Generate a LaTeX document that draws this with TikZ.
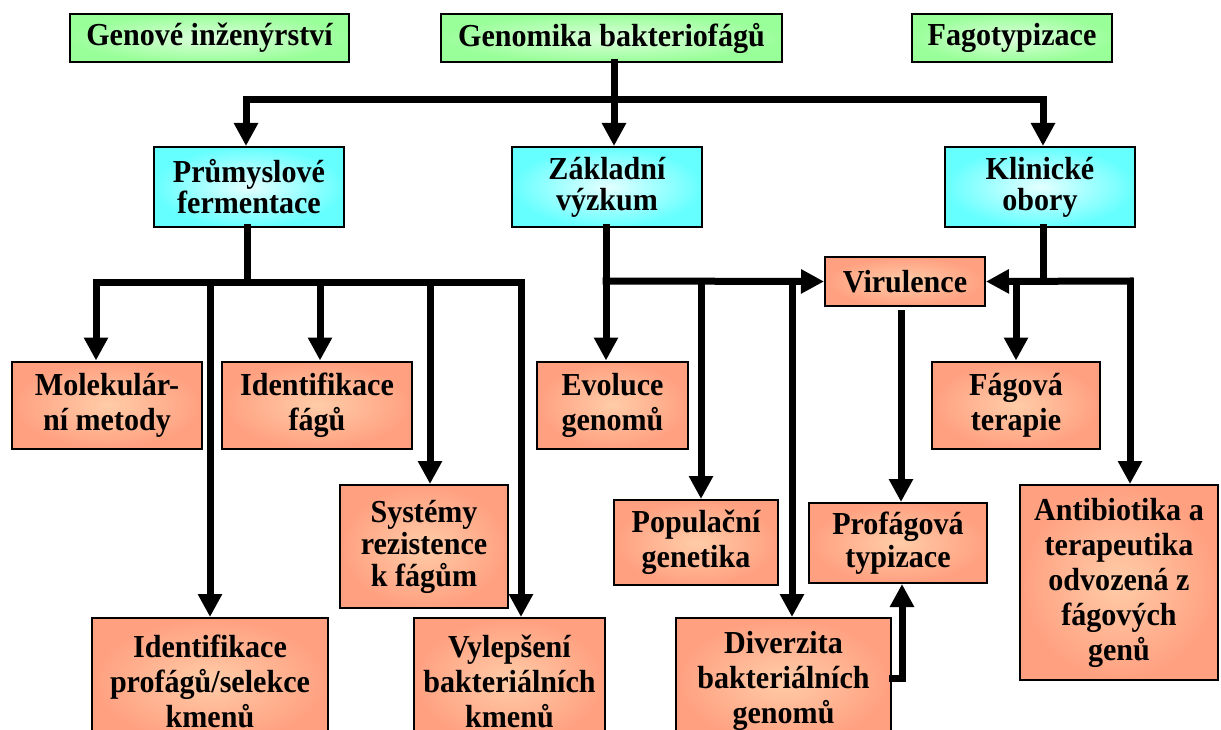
\documentclass[tikz,border=0pt]{standalone}
\usepackage{fontspec}
\setmainfont{Liberation Serif}[FakeStretch=0.94]
\usetikzlibrary{arrows.meta}
\definecolor{grnout}{HTML}{99FF99}
\definecolor{grnin}{HTML}{DDFFDD}
\definecolor{cyout}{HTML}{66FFFF}
\definecolor{cyin}{HTML}{E4FFFF}
\definecolor{saout}{HTML}{FFA080}
\definecolor{sain}{HTML}{FFCCA8}
\begin{document}
\begin{tikzpicture}[x=1pt,y=-1pt,
  box/.style={draw=black, line width=2pt, align=center, inner sep=0pt,
    font=\fontsize{32}{35}\selectfont\bfseries},
  gbox/.style={box, inner color=grnin, outer color=grnout, minimum height=48pt},
  cbox/.style={box, inner color=cyin, outer color=cyout, minimum height=80pt, minimum width=190pt,
    font=\fontsize{32}{31}\selectfont\bfseries},
  sbox/.style={box, inner color=sain, outer color=saout},
  conn/.style={line width=7pt, line cap=rect, line join=miter},
  arr/.style={conn, -{Triangle[width=23pt,length=23pt]}}]
\useasboundingbox (0,0) rectangle (1221,730);
\clip (0,0) rectangle (1221,730);

% top row
\node[gbox, minimum width=279pt] (g1) at (209.5,38) {Genové inženýrství};
\node[gbox, minimum width=341pt] (g2) at (611.5,38) {Genomika bakteriofágů};
\node[gbox, minimum width=200pt] (g3) at (1012,38) {Fagotypizace};

% middle row
\node[cbox, minimum width=190pt] (c1) at (249,187) {Průmyslové\\fermentace};
\node[cbox] (c2) at (607,187) {Základní\\výzkum};
\node[cbox] (c3) at (1040,187) {Klinické\\obory};

\node[sbox, minimum width=160pt, minimum height=49pt] (v) at (905,281.5) {Virulence};

% third row
\node[sbox, minimum width=190pt, minimum height=87pt] (m1) at (107,405) {Molekulár-\\ní metody};
\node[sbox, minimum width=190pt, minimum height=87pt] (m2) at (317,405) {Identifikace\\fágů};
\node[sbox, minimum width=151pt, minimum height=87pt] (e1) at (612.5,405) {Evoluce\\genomů};
\node[sbox, minimum width=168pt, minimum height=87pt] (f1) at (1016,405) {Fágová\\terapie};

% fourth row
\node[sbox, minimum width=168pt, minimum height=123pt, font=\fontsize{32}{32}\selectfont\bfseries] (m3) at (424,546.5) {Systémy\\rezistence\\k fágům};
\node[sbox, minimum width=164pt, minimum height=85pt] (p1) at (696,542.5) {Populační\\genetika};
\node[sbox, minimum width=178pt, minimum height=80pt, font=\fontsize{32}{33}\selectfont\bfseries] (pt) at (898,543) {Profágová\\typizace};
\node[sbox, minimum width=198pt, minimum height=195pt] (a1) at (1119,582.5) {Antibiotika a\\terapeutika\\odvozená z\\fágových\\genů};

% bottom row
\node[sbox, minimum width=236pt, minimum height=126pt] (m4) at (210,681) {Identifikace\\profágů/selekce\\kmenů};
\node[sbox, minimum width=191pt, minimum height=126pt] (m5) at (509.5,681) {Vylepšení\\bakteriálních\\kmenů};
\node[sbox, minimum width=215pt, minimum height=126pt] (d1) at (783.5,681) {Diverzita\\bakteriálních\\genomů};

% connectors: top
\coordinate (tb) at (614,100);
\coordinate (tl) at (246,100);
\coordinate (tr) at (1043,100);
\draw[conn] (g2.south -| tb) -- (tb);
\draw[conn] (tl) -- (tr);
\draw[arr] (tl) -- (tl |- c1.north);
\draw[arr] (tb) -- (tb |- c2.north);
\draw[arr] (tr) -- (tr |- c3.north);

% Průmyslové fermentace
\coordinate (pb) at (247,282);
\coordinate (pa) at (96,282);
\coordinate (pc) at (210,282);
\coordinate (pd) at (320,282);
\coordinate (pe) at (430,282);
\coordinate (pf) at (521,282);
\draw[conn] (c1.south -| pb) -- (pb);
\draw[conn] (pa) -- (pf);
\draw[arr] (pa) -- (pa |- m1.north);
\draw[arr] (pc) -- (pc |- m4.north);
\draw[arr] (pd) -- (pd |- m2.north);
\draw[arr] (pe) -- (pe |- m3.north);
\draw[arr] (pf) -- (pf |- m5.north);

% Základní výzkum
\coordinate (zb) at (606,281);
\coordinate (zp) at (701,281);
\coordinate (zd) at (792,281);
\draw[arr] (c2.south -| zb) -- (zb |- e1.north);
\draw[arr] (zb) -- (v.west);
\draw[arr] (zp) -- (zp |- p1.north);
\draw[arr] (zd) -- (zd |- d1.north);

% Klinické obory
\coordinate (kb) at (1043,281);
\coordinate (kf) at (1016,281);
\coordinate (kr) at (1130,281);
\draw[conn] (c3.south -| kb) -- (kb);
\draw[arr] (kr) -- (v.east);
\draw[arr] (kf) -- (kf |- f1.north);
\draw[arr] (kr) -- (kr |- a1.north);

% Virulence -> Profágová typizace
\coordinate (vs) at (901,313);
\draw[arr] (vs) -- (vs |- pt.north);

% Diverzita -> Profágová typizace
\coordinate (de) at (902,678);
\draw[arr] (d1.east |- de) -- (de) -- (de |- pt.south);
\end{tikzpicture}
\end{document}
